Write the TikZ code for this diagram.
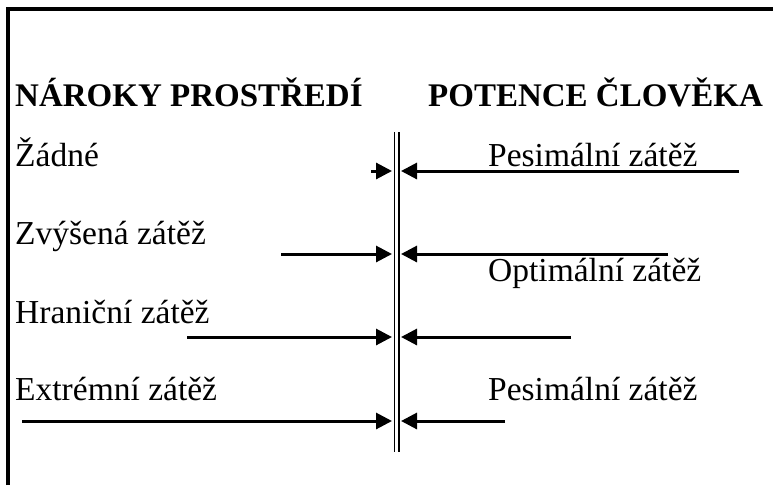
\documentclass[tikz,border=0pt]{standalone}
\usepackage{fontspec}
\setmainfont{Liberation Serif}
\usetikzlibrary{arrows.meta}
\tikzset{
  lbl/.style={anchor=base west, inner sep=0pt, font=\fontsize{33.5}{40}\selectfont},
  head/.style={anchor=base west, inner sep=0pt, font=\fontsize{33}{40}\selectfont\bfseries},
  frame/.style={line width=3.4pt},
  wall/.style={line width=1.8pt},
  push/.style={line width=3pt, -{Triangle[length=16pt,width=16pt]}}
}
\begin{document}
\begin{tikzpicture}[x=1pt,y=-1pt]
\useasboundingbox (0,0) rectangle (773,485);
% frame
\draw[frame] (8,485) -- (8,9) -- (773,9);
% headings
\node[head] (h1) at (15,106) {NÁROKY PROSTŘEDÍ};
\node[head] (h2) at (428,106) {POTENCE ČLOVĚKA};
% labels
\node[lbl] (l1) at (15,166) {Žádné};
\node[lbl] (l2) at (15,244) {Zvýšená zátěž};
\node[lbl] (l3) at (15,323) {Hraniční zátěž};
\node[lbl] (l4) at (15,400) {Extrémní zátěž};
\node[lbl] (r1) at (488,166) {Pesimální zátěž};
\node[lbl] (r2) at (488,281) {Optimální zátěž};
\node[lbl] (r4) at (488,400) {Pesimální zátěž};
% double wall
\draw[wall] (394.5,132) -- (394.5,452);
\draw[wall] (398.9,132) -- (398.9,452);
% arrow end coordinates
\coordinate (a1s) at (371,171); \coordinate (a1t) at (392,171);
\coordinate (a2s) at (281,254); \coordinate (a2t) at (392,254);
\coordinate (a3s) at (187,337); \coordinate (a3t) at (392,337);
\coordinate (a4s) at (22,421);  \coordinate (a4t) at (392,421);
\coordinate (b1s) at (739,171); \coordinate (b1t) at (401,171);
\coordinate (b2s) at (668,254); \coordinate (b2t) at (401,254);
\coordinate (b3s) at (571,337); \coordinate (b3t) at (401,337);
\coordinate (b4s) at (505,421); \coordinate (b4t) at (401,421);
\draw[push] (a1s) -- (a1t);
\draw[push] (a2s) -- (a2t);
\draw[push] (a3s) -- (a3t);
\draw[push] (a4s) -- (a4t);
\draw[push] (b1s) -- (b1t);
\draw[push] (b2s) -- (b2t);
\draw[push] (b3s) -- (b3t);
\draw[push] (b4s) -- (b4t);
\end{tikzpicture}
\end{document}
